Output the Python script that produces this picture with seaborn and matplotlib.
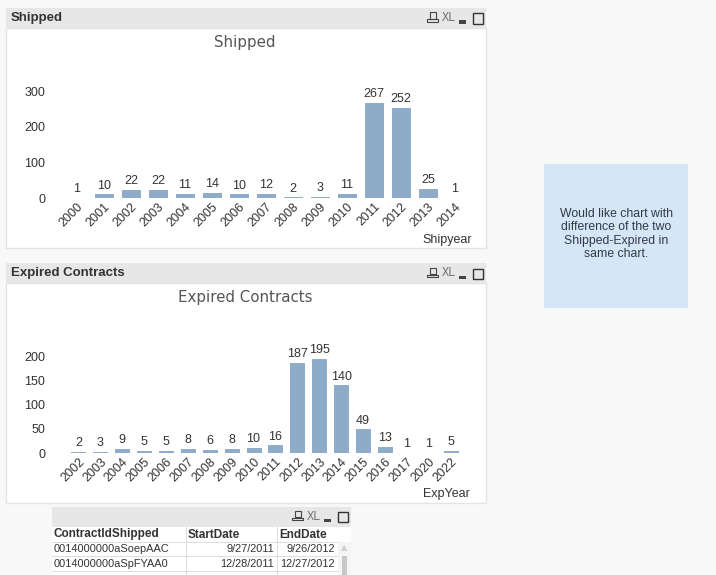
import matplotlib
matplotlib.use('Agg')
import matplotlib.pyplot as plt
from matplotlib.patches import Rectangle
import pandas as pd
import seaborn as sns

ship_years = ['2000', '2001', '2002', '2003', '2004', '2005', '2006', '2007',
              '2008', '2009', '2010', '2011', '2012', '2013', '2014']
ship_counts = [1, 10, 22, 22, 11, 14, 10, 12, 2, 3, 11, 267, 252, 25, 1]

exp_years = ['2002', '2003', '2004', '2005', '2006', '2007', '2008', '2009', '2010',
             '2011', '2012', '2013', '2014', '2015', '2016', '2017', '2020', '2022']
exp_counts = [2, 3, 9, 5, 5, 8, 6, 8, 10, 16, 187, 195, 140, 49, 13, 1, 1, 5]

table_cols = ['ContractIdShipped', 'StartDate', 'EndDate']
table_ids = ['0014000000aSoepAAC', '0014000000aSpFYAA0']
table_start = ['9/27/2011', '12/28/2011']
table_end = ['9/26/2012', '12/27/2012']

note = 'Would like chart with\ndifference of the two\nShipped-Expired in\nsame chart.'

W, H = 716, 575
BAR = '#8eabca'
HEAD = '#e7e7e7'
EDGE = '#e4e4e4'
TXT = '#333333'

sns.set_theme(style='white')
plt.rcParams['font.family'] = ['Liberation Sans', 'DejaVu Sans']

fig = plt.figure(figsize=(W / 100, H / 100), dpi=100, facecolor='#f8f8f8')


# everything outside the axes is placed in screen pixels, y going down
def box(x0, y0, x1, y1, color, edge='none', lw=0.0, z=1):
    fig.add_artist(Rectangle((x0 / W, 1 - y1 / H), (x1 - x0) / W, (y1 - y0) / H,
                             transform=fig.transFigure, facecolor=color,
                             edgecolor=edge, linewidth=lw, zorder=z))


def label(x, y, s, **kw):
    kw.setdefault('color', TXT)
    kw.setdefault('va', 'center')
    kw.setdefault('zorder', 5)
    fig.text(x / W, 1 - y / H, s, **kw)


def icons(x, y):
    # print icon, XL, minimise, maximise
    box(x + 3, y - 5, x + 9, y + 1, 'none', '#444444', 0.8, 4)
    box(x, y + 2, x + 11, y + 4, 'none', '#444444', 0.8, 4)
    label(x + 15, y, 'XL', fontsize=8.5, color='#777777', family='DejaVu Sans Mono')
    box(x + 32, y + 3, x + 39, y + 6, '#444444', z=4)
    box(x + 46, y - 4, x + 56, y + 6, 'none', '#333333', 1.0, 4)


def panel(x0, x1, head_top, head_bot, bottom, name):
    box(x0, head_bot, x1, bottom, 'white', EDGE, 1.0)
    box(x0, head_top, x1, head_bot, HEAD)
    label(x0 + 5, (head_top + head_bot) / 2, name, fontsize=9.5, fontweight='bold')
    icons(x1 - 59, (head_top + head_bot) / 2 - 0.5)


def chart(years, counts, left, right, top, zero, ymax, ticks, bar_width):
    ax = fig.add_axes([left / W, 1 - zero / H, (right - left) / W, (zero - top) / H])
    # figure artists sit above axes unless the axes are raised
    ax.set_zorder(10)
    df = pd.DataFrame({'year': years, 'count': counts})
    # thin edge keeps the one-count bars visible as a hairline
    sns.barplot(data=df, x='year', y='count', color=BAR, saturation=1, width=bar_width,
                edgecolor=BAR, linewidth=0.7, ax=ax)
    ax.set_xlim(-0.5, len(years) - 0.5)
    ax.set_ylim(0, ymax)
    ax.patch.set_alpha(0)
    sns.despine(ax=ax, left=True, bottom=True, top=True, right=True)
    # the little tick dots stand at x=55 in both charts, labels end at x=45
    ax.spines['left'].set_position(('outward', (left - 55) * 0.72))
    ax.set_xlabel('')
    ax.set_ylabel('')
    ax.set_yticks(ticks)
    ax.tick_params(axis='y', length=1, width=0.6, color='#bbbbbb', pad=6,
                   labelsize=9, labelcolor=TXT)
    ax.tick_params(axis='x', length=0, pad=2, labelsize=9, labelcolor=TXT)
    plt.setp(ax.get_xticklabels(), rotation=45, ha='right', rotation_mode='anchor')
    ax.bar_label(ax.containers[0], labels=[str(c) for c in counts], padding=2,
                 fontsize=9, color=TXT, clip_on=False)
    return ax


panel(6, 486, 8, 28, 248, 'Shipped')
label(245, 42.5, 'Shipped', fontsize=10.8, color='#555555', ha='center', family='DejaVu Sans')
chart(ship_years, ship_counts, 63.5, 468.5, 91, 198, 300, [0, 100, 200, 300], 0.64)
label(472, 240, 'Shipyear', fontsize=9, ha='right')

panel(6, 486, 263, 283, 503, 'Expired Contracts')
label(245, 297.5, 'Expired Contracts', fontsize=10.8, color='#555555', ha='center',
      family='DejaVu Sans')
chart(exp_years, exp_counts, 67.5, 461.5, 356.5, 453, 200, [0, 50, 100, 150, 200], 0.64)
label(470, 494, 'ExpYear', fontsize=9, ha='right')

# note box
box(544, 164, 688, 308, '#d5e6f6')
label(616, 234, note, fontsize=8.8, ha='center', linespacing=1.15, color='#333a44')

# table at the bottom
box(52, 507, 351, 575, 'white')
box(52, 507, 351, 527, HEAD)
icons(292, 516)
col_x = [52, 186, 277, 338]
for i, name in enumerate(table_cols):
    label(col_x[i] + 2, 534.5, name, fontsize=8.5, fontweight='bold')
for y in [542, 556, 571]:
    box(52, y - 0.5, 338, y + 0.5, '#dddddd', z=2)
for x in col_x[1:3]:
    box(x - 0.5, 527, x + 0.5, 575, '#dddddd', z=2)
for i, row_y in enumerate([549.5, 564]):
    label(54, row_y, table_ids[i], fontsize=7.9)
    label(274, row_y, table_start[i], fontsize=7.9, ha='right')
    label(335, row_y, table_end[i], fontsize=7.9, ha='right')
# scrollbar
box(338, 542, 351, 575, '#f4f4f4', z=2)
box(342, 556, 347, 575, '#c8c8c8', z=3)
label(344.5, 548, '▲', fontsize=6, color='#d0d0d0', ha='center', family='DejaVu Sans')

fig.savefig('out.png', dpi=100, facecolor=fig.get_facecolor())
